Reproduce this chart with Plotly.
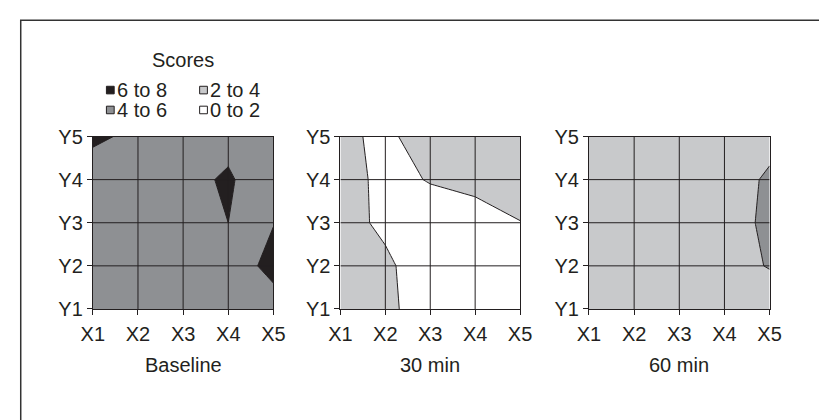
import plotly.graph_objects as go

W, H = 827, 420
OFF = 8  # page body margin: figure starts 8px right / 8px down in the window

# ---------------- data ----------------
x_labels = ["X1", "X2", "X3", "X4", "X5"]
y_labels = ["Y1", "Y2", "Y3", "Y4", "Y5"]
x_vals = [1, 2, 3, 4, 5]
y_vals = [1, 2, 3, 4, 5]

panel_titles = ["Baseline", "30 min", "60 min"]

# rows = Y1..Y5 (bottom to top), columns = X1..X5
baseline = [
    [5.0, 5.0, 5.0, 5.0, 4.5],
    [5.0, 5.0, 5.0, 4.14, 7.0],
    [5.0, 5.0, 5.0, 6.0, 5.9],
    [4.5, 5.0, 5.3, 6.3, 4.3],
    [6.5, 5.4, 5.0, 5.3, 5.0],
]
min30 = [
    [2.6, 2.36, 1.2, 1.2, 1.2],
    [2.6, 2.25, 1.2, 1.2, 1.2],
    [2.5, 1.73, 1.55, 1.5, 1.95],
    [2.42, 1.74, 2.05, 2.33, 2.95],
    [2.5, 1.5, 3.2, 3.0, 3.0],
]
min60 = [
    [3.0, 3.0, 3.0, 3.0, 2.3],
    [3.0, 3.0, 3.0, 3.0, 4.15],
    [3.0, 3.0, 3.0, 3.0, 4.47],
    [3.0, 3.0, 3.0, 3.0, 4.3],
    [3.0, 3.0, 3.0, 3.0, 3.36],
]
panels = [baseline, min30, min60]

score_bands = ["0 to 2", "2 to 4", "4 to 6", "6 to 8"]
band_colors = ["#ffffff", "#c8c9cb", "#8e9093", "#231f20"]
legend_order = ["6 to 8", "2 to 4", "4 to 6", "0 to 2"]

# ---------------- style ----------------
INK = "#231f20"
FONT = dict(family="Arial, Liberation Sans, sans-serif", size=20, color=INK)

def px(x):
    return (x - OFF) / W

def py(y):
    return 1 - (y - OFF) / H

x_domains = [(83, 269), (338, 523), (594, 780)]
y_domain = (314, 132)

colorscale = [
    [0.0, band_colors[0]], [0.3, band_colors[0]],
    [0.3, band_colors[1]], [0.5, band_colors[1]],
    [0.5, band_colors[2]], [0.7, band_colors[2]],
    [0.7, band_colors[3]], [1.0, band_colors[3]],
]

fig = go.Figure()
layout = dict(
    width=W, height=H,
    margin=dict(l=0, r=0, t=0, b=0),
    paper_bgcolor="white", plot_bgcolor="white",
    font=FONT, showlegend=False,
)
shapes = []
annotations = []

for i, (z, title) in enumerate(zip(panels, panel_titles)):
    n = "" if i == 0 else str(i + 1)
    fig.add_trace(go.Contour(
        x=x_vals, y=y_vals, z=z,
        xaxis="x" + n, yaxis="y" + n,
        contours=dict(start=0, end=8, size=2, coloring="fill", showlines=True),
        line=dict(color=INK, width=1, smoothing=0),
        colorscale=colorscale, showscale=False,
        hoverinfo="skip",
    ))
    ax_common = dict(
        range=[1, 5], showline=True, mirror=True, linecolor=INK, linewidth=1,
        ticks="outside", ticklen=5, tickwidth=1, tickcolor=INK,
        showgrid=False, zeroline=False, tickfont=FONT,
    )
    layout["xaxis" + n] = dict(
        ax_common, domain=[px(x_domains[i][0]), px(x_domains[i][1])],
        anchor="y" + n, tickvals=x_vals, ticktext=x_labels, ticklabelstandoff=2,
    )
    layout["yaxis" + n] = dict(
        ax_common, domain=[py(y_domain[0]), py(y_domain[1])],
        anchor="x" + n, tickvals=y_vals, ticktext=y_labels,
    )
    # grid lines drawn above the filled contours
    for v in x_vals[1:-1]:
        shapes.append(dict(type="line", xref="x" + n, yref="y" + n,
                           x0=v, x1=v, y0=y_vals[0], y1=y_vals[-1],
                           line=dict(color=INK, width=1), layer="above"))
    for v in y_vals[1:-1]:
        shapes.append(dict(type="line", xref="x" + n, yref="y" + n,
                           x0=x_vals[0], x1=x_vals[-1], y0=v, y1=v,
                           line=dict(color=INK, width=1), layer="above"))
    # panel title
    annotations.append(dict(
        text=title, xref="paper", yref="paper",
        x=px((x_domains[i][0] + x_domains[i][1]) / 2), y=py(373),
        xanchor="center", yanchor="middle", showarrow=False, font=FONT,
    ))

# legend
annotations.append(dict(
    text="Scores", xref="paper", yref="paper", x=px(176), y=py(51),
    xanchor="center", yanchor="middle", showarrow=False, font=FONT,
))
col_x = [97, 193]
row_y = [83, 104]
for k, label in enumerate(legend_order):
    c, r = k % 2, k // 2
    color = band_colors[score_bands.index(label)]
    sx, sy = col_x[c], row_y[r]
    shapes.append(dict(type="rect", xref="paper", yref="paper",
                       x0=px(sx), x1=px(sx + 8), y0=py(sy + 4), y1=py(sy - 4),
                       fillcolor=color, line=dict(color=INK, width=1)))
    annotations.append(dict(
        text=label, xref="paper", yref="paper", x=px(sx + 9), y=py(sy),
        xanchor="left", yanchor="middle", showarrow=False, font=FONT,
    ))

# outer frame (figure edge)
shapes.append(dict(type="rect", xref="paper", yref="paper",
                   x0=px(8.75), x1=1.02, y0=-0.05, y1=py(9.25),
                   line=dict(color="#333333", width=1.5), layer="below"))

layout["shapes"] = shapes
layout["annotations"] = annotations
fig.update_layout(**layout)
fig.write_html("out.html")
